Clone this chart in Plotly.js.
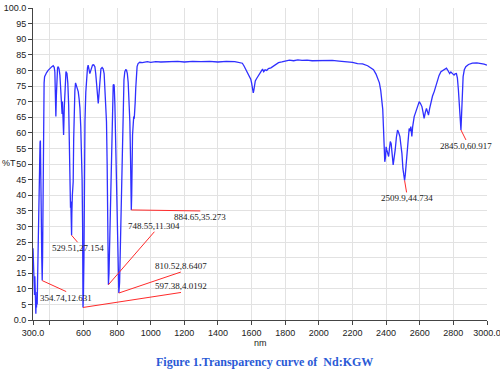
<!DOCTYPE html>
<html>
<head>
<meta charset="utf-8">
<script src="https://cdn.plot.ly/plotly-3.0.1.min.js"></script>
<style>html,body{margin:0;padding:0;background:#fff;}#chart{width:500px;height:372px;}</style>
</head>
<body>
<div id="chart"></div>
<script>
// Wavelength (nm)
const wavelength = [300,303,305,307,309,311,313,315,317,319,321,323,325,327,330,333,336,339,342,344,346,349,352,354.74,357,360,363,366,369,375,381,390,401,412,420,426,430,433,436,439,442,446,450,455,460,465,470,473,475,478,482,486,490,496,502,507,512,516,520,523,525,527,529.51,531,534,537,539,542,545,549,553,557,561,565,569,574,579,584,589,592,595,597.38,600,603,606,609,614,619,624,628,633,638,644,649,654,661,668,673,678,683,688,692,698,704,711,717,723,730,737,741,744,748.55,752,756,760,765,770,774,777,781,783,787,791,795,800,805,810.52,815,820,826,831,836,841,846,851,856,861,866,871,876,880,883,884.65,887,892,896,899,902,905,908,911,915,919,925,935,950,980,1000,1030,1060,1100,1130,1160,1200,1250,1300,1350,1400,1450,1500,1530,1545,1555,1565,1575,1585,1595,1600,1605,1610,1613,1617,1622,1630,1640,1650,1660,1665,1672,1680,1690,1700,1715,1730,1745,1760,1780,1800,1825,1850,1875,1900,1930,1960,2000,2040,2080,2120,2160,2180,2200,2230,2260,2290,2310,2325,2340,2350,2360,2368,2375,2380,2384,2388,2392,2396,2400,2404,2409,2415,2420,2425,2430,2434,2438,2442,2447,2454,2461,2468,2475,2482,2488,2494,2500,2505,2509.9,2514,2518,2522,2527,2532,2537,2542,2547,2550,2553,2558,2562,2567,2574,2581,2588,2597,2605,2613,2620,2626,2633,2640,2646,2652,2659,2666,2676,2686,2695,2705,2715,2726,2735,2745,2752,2759,2765,2772,2778,2785,2791,2798,2804,2810,2818,2824,2830,2835,2840,2845,2849,2853,2858,2865,2874,2890,2913,2940,2960,2983,3000];
// Transmittance (%T)
const transmittance = [23,18,12,16,8,14,6,9,2,7,4,9,5,12,22,38,48,54,57,57.5,52,35,20,12.63,20,45,65,76,78,79,79.3,80,80.8,81.2,81.5,81,79.5,73,65.2,72,79,80.8,81.2,80.5,78.5,74,68.9,66,70,66,59.3,68,75,79.6,79,76,69,52.9,41.7,36,38,33,27.15,34,40,43,44.3,58,69,73.5,76,75.3,74.5,74,73.2,71,68,62,55,45,30,4.02,8,20,45,63.6,73,78.5,80.8,81.7,80.5,79,80,81,81.7,81.8,81.2,79,76.4,72,69.4,72,78.5,80.5,80.9,80.5,79,73,63.6,50,30,11.3,15,25,35,55,68,74,75.3,75.5,75,69,58.2,45,30,15,8.64,12,25,41.7,60,72.1,77,79.6,80.2,80.1,79,76.2,70,63.6,52,41.7,35.27,40,59.3,64,65.2,64.5,66.2,70,74.3,78.5,81.2,82.2,82.6,82.5,82.8,82.6,82.8,82.7,82.8,82.7,82.9,82.7,82.9,82.8,82.9,82.7,82.9,82.8,82.6,82.3,81.4,80.3,79.5,78.2,77.2,76,74.5,72.8,73.5,75.8,76.6,77.4,78.2,78.8,79.8,80.4,79.6,80.2,80,80.6,80.8,81.4,81.9,82.5,82.7,83,83.3,83.1,83.4,83.2,83.3,83.1,83.2,83.1,83.2,83,82.9,82.8,82.6,82.2,82.1,81.5,80.9,80.2,78.8,77.5,76,73.6,71,67.5,62,55,50.7,52,55.5,54.5,53,52.4,55,57.2,56.5,55,52,49.7,51.5,54.5,58.5,60.9,60,58.8,56,53.4,48.5,46,44.73,46.5,49.1,53,57.7,60,61.4,60.5,62,60.5,58.8,62,64.5,65.2,66.3,67.3,68.8,70,69.3,68.4,66.5,64.6,66.5,67.8,66.8,65.7,67.8,70,71.8,73.2,75,76.9,78.4,79.6,79.9,80.1,80.4,80.7,80.2,79.4,79,79.5,79.3,78.8,78.5,78.9,79,77.5,73.7,69,64.5,60.92,66,72,78,80.2,81.2,81.9,82.3,82.4,82.3,82,81.7];

// Labelled minima
const peakNm = [354.74, 529.51, 597.38, 748.55, 810.52, 884.65, 2509.9, 2845.0];
const peakT = [12.631, 27.154, 4.0192, 11.304, 8.6407, 35.273, 44.734, 60.917];
const peakLabels = ["354.74,12.631","529.51,27.154","597.38,4.0192","748.55,11.304","810.52,8.6407","884.65,35.273","2509.9,44.734","2845.0,60.917"];

// Axis ticks
const xTickVals = [300,400,600,800,1000,1200,1400,1600,1800,2000,2200,2400,2600,2800,3000];
const xTickText = ["300.0","","600","800","1000","1200","1400","1600","1800","2000","2200","2400","2600","2800","3000.0"];
const yTickVals = [0,5,10,15,20,25,30,35,40,45,50,55,60,65,70,75,80,85,90,95,100];
const yTickText = ["0.0","5","10","15","20","25","30","35","40","45","50","55","60","65","70","75","80","85","90","95","100.0"];

// Label placement (pixel offsets of the label from its point)
const labelOffsets = [
  {ax:24, ay:11, yanchor:'top'},
  {ax:6, ay:7, yanchor:'top'},
  {ax:98, ay:-15, yanchor:'bottom'},
  {ax:46, ay:-53, yanchor:'bottom'},
  {ax:62, ay:-21, yanchor:'bottom'},
  {ax:69, ay:1, yanchor:'top'},
  {ax:2, ay:12, yanchor:'top'},
  {ax:5, ay:10, yanchor:'top'}
];

const annotations = peakNm.map((x, i) => ({
  x: x, y: peakT[i], xref: 'x', yref: 'y',
  text: peakLabels[i], showarrow: true,
  ax: labelOffsets[i].ax, ay: labelOffsets[i].ay, axref: 'pixel', ayref: 'pixel',
  xanchor: 'center', yanchor: labelOffsets[i].yanchor,
  arrowhead: 0, arrowwidth: 1, arrowcolor: '#ff2a2a', standoff: 0, startstandoff: 0,
  borderpad: 0,
  font: {family: 'Liberation Serif, Times New Roman, serif', size: 9, color: '#222'}
}));

annotations.push({
  x: -0.0727, y: 0.503, xref: 'paper', yref: 'paper', xanchor: 'left', yanchor: 'middle',
  text: '%T', showarrow: false,
  font: {family: 'Liberation Sans, Arial, sans-serif', size: 9, color: '#222'}
});
annotations.push({
  x: 0.5, y: -0.074, xref: 'paper', yref: 'paper', xanchor: 'center', yanchor: 'middle',
  text: 'nm', showarrow: false,
  font: {family: 'Liberation Sans, Arial, sans-serif', size: 9, color: '#222'}
});
annotations.push({
  x: 0.509, y: -0.135, xref: 'paper', yref: 'paper', xanchor: 'center', yanchor: 'middle',
  text: '<b>Figure 1.Transparency curve of \u00a0Nd:KGW</b>', showarrow: false,
  font: {family: 'Liberation Serif, Times New Roman, serif', size: 12, color: '#2a5ad6'}
});

const trace = {
  x: wavelength, y: transmittance, type: 'scatter', mode: 'lines',
  line: {color: '#2f2fff', width: 1.3}, hoverinfo: 'skip'
};

const layout = {
  width: 500, height: 372,
  margin: {l: 33, r: 13, t: 8, b: 52},
  paper_bgcolor: '#fff', plot_bgcolor: '#fff',
  showlegend: false,
  xaxis: {
    range: [300, 3000], tickmode: 'array', tickvals: xTickVals, ticktext: xTickText,
    ticklabeloverflow: 'allow',
    showgrid: true, gridcolor: '#e2e2e2', gridwidth: 1,
    showline: true, linecolor: '#444', linewidth: 1, zeroline: false,
    ticks: 'outside', ticklen: 4, tickcolor: '#444',
    tickfont: {family: 'Liberation Sans, Arial, sans-serif', size: 9, color: '#222'}
  },
  yaxis: {
    range: [0, 100], tickmode: 'array', tickvals: yTickVals, ticktext: yTickText,
    ticklabeloverflow: 'allow',
    showgrid: true, gridcolor: '#e2e2e2', gridwidth: 1,
    showline: true, linecolor: '#444', linewidth: 1, zeroline: false,
    ticks: 'outside', ticklen: 4, tickcolor: '#444',
    tickfont: {family: 'Liberation Sans, Arial, sans-serif', size: 9, color: '#222'}
  },
  annotations: annotations
};

Plotly.newPlot('chart', [trace], layout, {staticPlot: true, displayModeBar: false});
</script>
</body>
</html>
